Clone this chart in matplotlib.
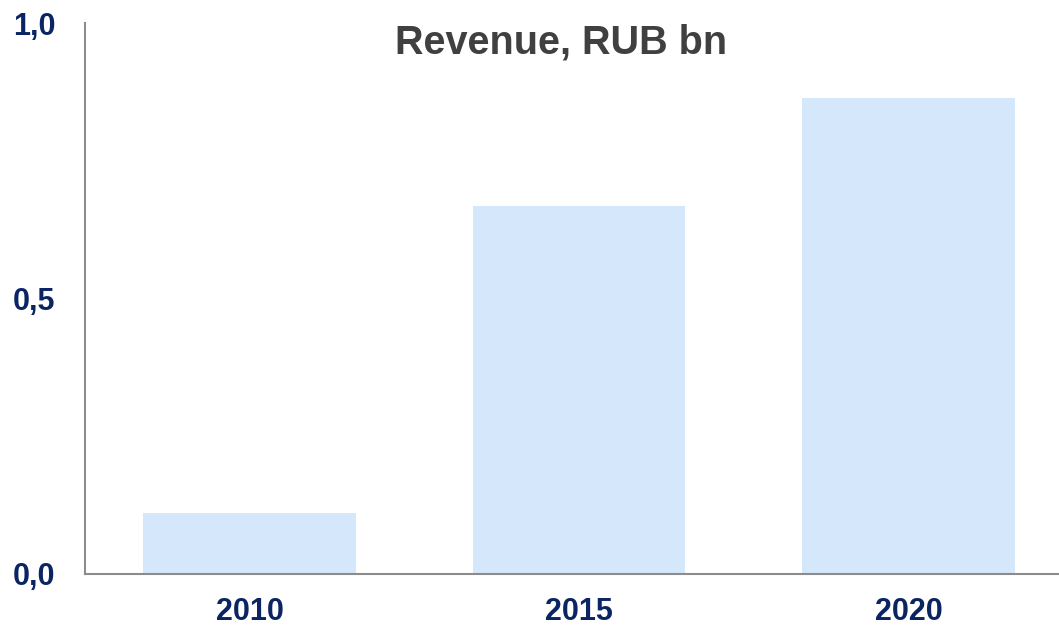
import matplotlib.pyplot as plt

# Данные
years = ['2010', '2015', '2020']
revenue = [0.11, 0.668, 0.864]
y_ticks = [0.0, 0.5, 1.0]
y_labels = ['0,0', '0,5', '1,0']

navy = '#0B2563'
bar_color = '#D5E7FA'

plt.rcParams['font.family'] = ['Liberation Sans', 'DejaVu Sans']

fig = plt.figure(figsize=(10.59, 6.27), dpi=100)
ax = fig.add_axes([85 / 1059, 1 - 574 / 627, 1 - 85 / 1059, 551 / 627])

x = list(range(len(years)))
ax.bar(x, revenue, width=0.646, color=bar_color, zorder=2)

ax.set_xlim(-0.5, 2.457)
ax.set_ylim(0, 1.0)
ax.set_xticks(x)
ax.set_xticklabels(years, fontsize=22, fontweight='bold', color=navy)
ax.set_yticks(y_ticks)
ax.set_yticklabels(y_labels, fontsize=22, fontweight='bold', color=navy)
ax.tick_params(axis='both', length=0)
ax.tick_params(axis='x', pad=16.5)
for lbl in ax.get_yticklabels():
    lbl.set_horizontalalignment('left')
ax.tick_params(axis='y', pad=(85 - 13) * 0.72)

for side in ['top', 'right']:
    ax.spines[side].set_visible(False)
for side in ['left', 'bottom']:
    ax.spines[side].set_color('#8C8C8C')
    ax.spines[side].set_linewidth(1.5)

fig.text(561 / 1059, 1 - 42 / 627, 'Revenue, RUB bn', ha='center', va='center',
         fontsize=28.5, fontweight='bold', color='#404040')

fig.savefig('out.png', dpi=100)
